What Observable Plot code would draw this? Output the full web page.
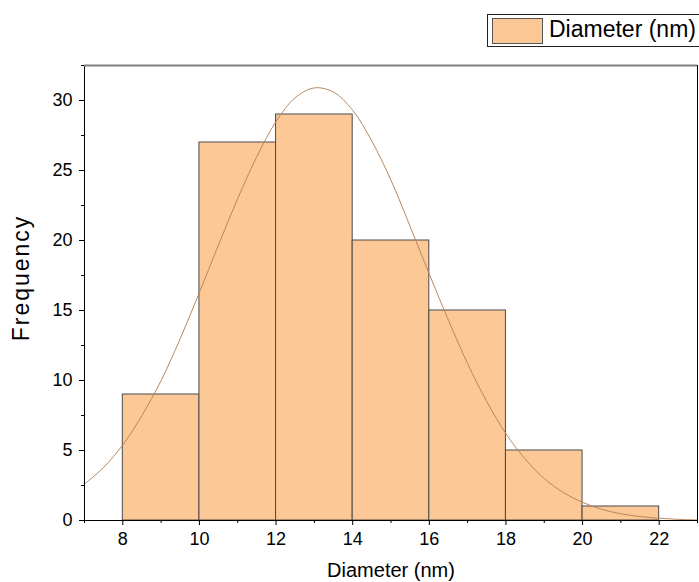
<!DOCTYPE html>
<html><head><meta charset="utf-8">
<script src="https://cdn.jsdelivr.net/npm/d3@7"></script>
<script src="https://cdn.jsdelivr.net/npm/@observablehq/plot@0.6"></script>
<style>
body{margin:0;width:699px;height:582px;overflow:hidden;background:#fff;font-family:"Liberation Sans",Arial,sans-serif;}
#legend{position:relative;height:50px;width:699px;overflow:hidden;}
.box{position:absolute;left:487px;top:14px;width:230px;height:31px;border:1px solid #222;background:#fff;}
.sw{position:absolute;left:4px;top:3px;width:49px;height:24px;background:#FBC896;border:1px solid #555;}
.lt{position:absolute;left:61px;top:3px;font-size:23px;line-height:23px;color:#000;white-space:nowrap;}
</style>
</head><body>
<div id="legend"><div class="box"><div class="sw"></div><div class="lt">Diameter (nm)</div></div></div>
<div id="chart"></div>
<script>
const binStart = [8, 10, 12, 14, 16, 18, 20];
const binEnd   = [10, 12, 14, 16, 18, 20, 22];
const counts   = [9, 27, 29, 20, 15, 5, 1];

const fitX = [7, 7.5, 8, 8.5, 9, 9.5, 10, 10.5, 11, 11.5, 12, 12.5, 13, 13.5, 14, 14.5, 15, 15.5, 16, 16.5, 17, 17.5, 18, 18.5, 19, 19.5, 20, 20.5, 21, 21.5, 22, 22.5, 23];
const fitY = [2.6, 3.8, 5.4, 7.5, 10.0, 13.0, 16.3, 19.7, 23.0, 26.0, 28.5, 30.2, 30.9, 30.6, 29.3, 27.1, 24.3, 21.0, 17.6, 14.3, 11.2, 8.5, 6.2, 4.4, 3.0, 2.0, 1.3, 0.8, 0.48, 0.28, 0.16, 0.08, 0.04];

const xMajor = [8, 10, 12, 14, 16, 18, 20, 22];
const xMinor = [7, 9, 11, 13, 15, 17, 19, 21, 23];
const yMajor = [0, 5, 10, 15, 20, 25, 30];
const yMinor = [2.5, 7.5, 12.5, 17.5, 22.5, 27.5, 32.5];

const bars = binStart.map((s, i) => ({x1: s, x2: binEnd[i], y: counts[i]}));
const fit = fitX.map((x, i) => ({x, y: fitY[i]}));

const chart = Plot.plot({
  width: 699, height: 532,
  marginLeft: 84, marginRight: 2, marginTop: 15, marginBottom: 62,
  x: {domain: [7, 23]},
  y: {domain: [0, 32.5]},
  style: {fontFamily: "Liberation Sans, Arial, sans-serif", fontSize: "18px", color: "#000", background: "#fff"},
  marks: [
    Plot.rectY(bars, {x1: "x1", x2: "x2", y: "y", fill: "#FBC896", stroke: "#4a4a4a", strokeWidth: 1}),
    Plot.line(fit, {x: "x", y: "y", stroke: "#b8885e", strokeWidth: 1, curve: "catmull-rom"}),
    Plot.frame({stroke: "#000", strokeWidth: 1}),
    Plot.ruleY([32.5], {stroke: "#808080", strokeWidth: 2}),
    Plot.axisX(xMajor, {tickSize: 5, tickPadding: 7, fontSize: 18, label: null}),
    Plot.axisX(xMinor, {tickSize: 3, tickFormat: () => "", label: null}),
    Plot.axisY(yMajor, {tickSize: 5, tickPadding: 7, fontSize: 18, label: null}),
    Plot.axisY(yMinor, {tickSize: 3, tickFormat: () => "", label: null}),
    Plot.text(["Diameter (nm)"], {text: d => d, frameAnchor: "bottom", dy: 50, fontSize: 20, lineAnchor: "middle"}),
    Plot.text(["Frequency"], {text: d => d, frameAnchor: "left", textAnchor: "middle", rotate: -90, dx: -63, dy: -15, fontSize: 23, lineAnchor: "middle"})
  ]
});
document.getElementById("chart").appendChild(chart);
d3.select(chart).selectAll("text").filter(function(){ return this.textContent === "Frequency"; }).attr("letter-spacing", "2px");
</script>
</body></html>
